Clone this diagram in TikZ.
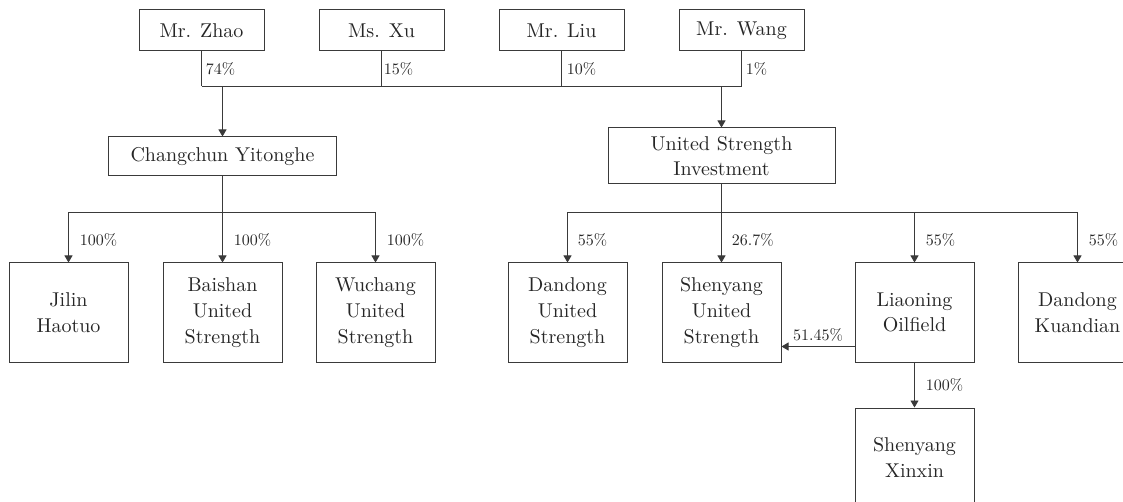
\documentclass[tikz,border=0pt]{standalone}
\usepackage{fontspec}
\setmainfont{lmroman10-regular.otf}
\usetikzlibrary{arrows.meta,positioning,calc}
\definecolor{ink}{HTML}{262626}
\definecolor{wire}{HTML}{3A3A3A}

\begin{document}
\begin{tikzpicture}[x=1pt,y=-1pt,>={Triangle[length=7pt,width=8pt]},
  firm/.style={draw=wire,line width=1pt,text=ink,align=center,inner sep=0pt,
    font=\fontsize{20}{25.7}\selectfont},
  owner/.style={firm,minimum width=125pt,minimum height=41pt},
  unit/.style={firm,minimum width=119pt,minimum height=99pt},
  share/.style={text=ink,inner sep=0pt,font=\fontsize{16}{18}\selectfont},
  link/.style={draw=wire,line width=0.9pt}]
\useasboundingbox (0,0) rectangle (1123,502);
\clip (0,0) rectangle (1123,502);
% shareholders
\node[owner] (zhao) at (201.5,30.5) {Mr. Zhao};
\node[owner] (xu) at (381.5,30.5) {Ms. Xu};
\node[owner] (liu) at (561.5,30.5) {Mr. Liu};
\node[owner] (wang) at (741.5,30.5) {Mr. Wang};
% holding companies
\node[firm,minimum width=228pt,minimum height=39pt] (cyt) at (222.5,156.5) {Changchun Yitonghe};
\node[firm,minimum width=227pt,minimum height=56pt] (usi) at (721.5,156) {United Strength\\Investment};
% subsidiaries
\node[unit] (jilin) at (68.5,312.5) {Jilin\\Haotuo};
\node[unit] (baishan) at (222.5,312.5) {Baishan\\United\\Strength};
\node[unit] (wuchang) at (375.5,312.5) {Wuchang\\United\\Strength};
\node[unit] (ddus) at (567.5,312.5) {Dandong\\United\\Strength};
\node[unit] (syus) at (721.5,312.5) {Shenyang\\United\\Strength};
\node[unit] (lnof) at (914.5,312.5) {Liaoning\\Oilfield};
\node[unit] (ddkd) at (1077.5,312.5) {Dandong\\Kuandian};
\node[unit] (syxx) at (914.5,457.5) {Shenyang\\Xinxin};
\coordinate (topbus) at (0,86.5);
\coordinate (lowbus) at (0,212.5);
\coordinate (tap) at ([yshift=-34pt]lnof.west);

\draw[link] (zhao.south) -- node[share,right,xshift=4pt]{74\%} (zhao.south |- topbus);
\draw[link] (xu.south) -- node[share,right,xshift=2pt]{15\%} (xu.south |- topbus);
\draw[link] (liu.south) -- node[share,right,xshift=5pt]{10\%} (liu.south |- topbus);
\draw[link] (wang.south) -- node[share,right,xshift=4pt]{1\%} (wang.south |- topbus);
\draw[link] (zhao.south |- topbus) -- (wang.south |- topbus);
\draw[link,->] (cyt.north |- topbus) -- (cyt.north);
\draw[link,->] (usi.north |- topbus) -- (usi.north);

\draw[link] (cyt.south) -- (cyt.south |- lowbus);
\draw[link] (jilin.north |- lowbus) -- (wuchang.north |- lowbus);
\draw[link,->] (jilin.north |- lowbus) -- node[share,right,xshift=11pt,pos=0.55]{100\%} (jilin.north);
\draw[link,->] (baishan.north |- lowbus) -- node[share,right,xshift=11pt,pos=0.55]{100\%} (baishan.north);
\draw[link,->] (wuchang.north |- lowbus) -- node[share,right,xshift=11pt,pos=0.55]{100\%} (wuchang.north);

\draw[link] (usi.south) -- (usi.south |- lowbus);
\draw[link] (ddus.north |- lowbus) -- (ddkd.north |- lowbus);
\draw[link,->] (ddus.north |- lowbus) -- node[share,right,xshift=10pt,pos=0.55]{55\%} (ddus.north);
\draw[link,->] (syus.north |- lowbus) -- node[share,right,xshift=10pt,pos=0.55]{26.7\%} (syus.north);
\draw[link,->] (lnof.north |- lowbus) -- node[share,right,xshift=11pt,pos=0.55]{55\%} (lnof.north);
\draw[link,->] (ddkd.north |- lowbus) -- node[share,right,xshift=11pt,pos=0.55]{55\%} (ddkd.north);

\draw[link,->] (tap) -- node[share,above=5pt]{51.45\%} (syus.east |- tap);
\draw[link,->] (lnof.south) -- node[share,right,xshift=11pt]{100\%} (syxx.north);
\end{tikzpicture}
\end{document}
